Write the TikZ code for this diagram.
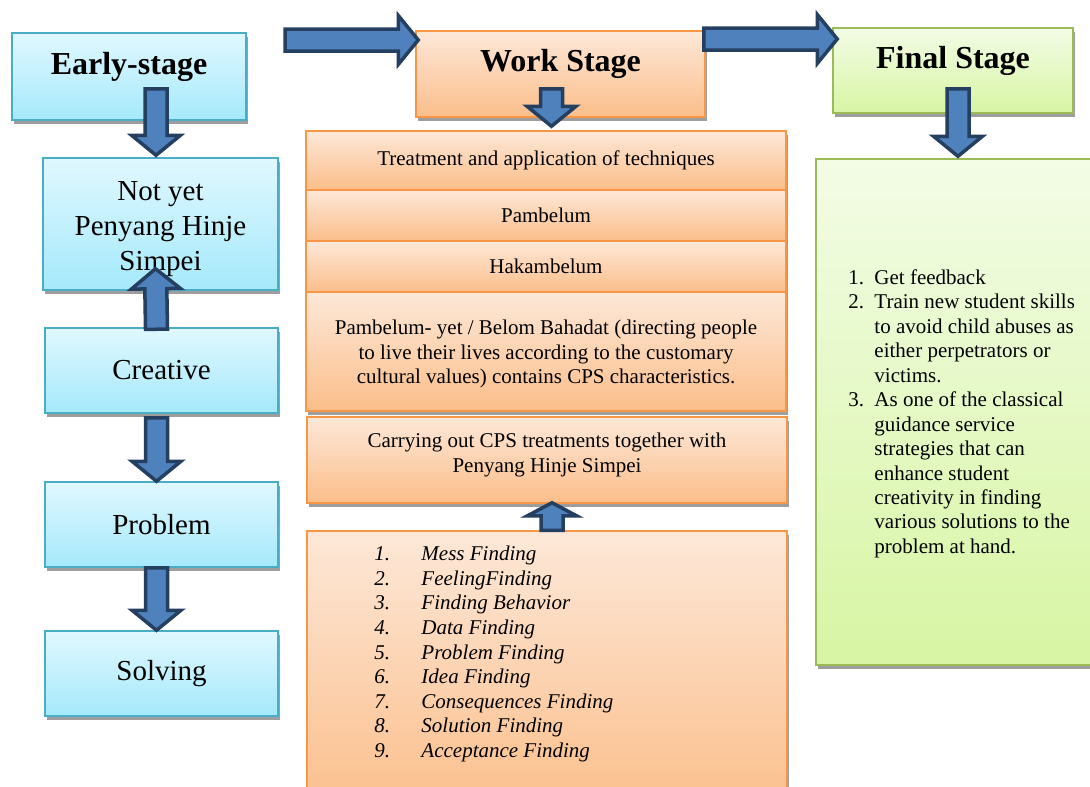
\documentclass[tikz,border=0pt]{standalone}
\usepackage{fontspec}
\setmainfont{Liberation Serif}
\usetikzlibrary{calc,shadows}

\definecolor{arrowfill}{HTML}{4F81BD}
\definecolor{arrowline}{HTML}{243F60}
\definecolor{cyanline}{HTML}{4BACC6}
\definecolor{cyantop}{HTML}{E0F8FE}
\definecolor{cyanbot}{HTML}{A5E9FB}
\definecolor{orangeline}{HTML}{F79646}
\definecolor{orangetop}{HTML}{FDE8D8}
\definecolor{orangebot}{HTML}{FBBE8A}
\definecolor{greenline}{HTML}{9BBB59}
\definecolor{greentop}{HTML}{F3FCE6}
\definecolor{greenbot}{HTML}{D7F5A3}

% block arrow from #2 to #3, head length #1
\newcommand{\blockarrow}[3][20pt]{%
  \coordinate (ba-s) at (#2);
  \coordinate (ba-t) at (#3);
  \coordinate (ba-h) at ($(ba-t)!#1!(ba-s)$);
  \filldraw[blockarr] ($(ba-s)!11pt!90:(ba-t)$) -- ($(ba-h)!11pt!90:(ba-t)$)
    -- ($(ba-h)!24.5pt!90:(ba-t)$) -- (ba-t) -- ($(ba-h)!24.5pt!-90:(ba-t)$)
    -- ($(ba-h)!11pt!-90:(ba-t)$) -- ($(ba-s)!11pt!-90:(ba-t)$) -- cycle;}

\begin{document}
\begin{tikzpicture}[x=1pt, y=-1pt,
        box/.style={rectangle, line width=1.5pt, inner sep=0pt,
            drop shadow={shadow xshift=1.5pt, shadow yshift=-3.5pt, fill=black!38, opacity=1}},
        cyanbox/.style={box, draw=cyanline, top color=cyantop, bottom color=cyanbot, minimum width=233pt, minimum height=85pt, align=center, font=\fontsize{29}{35}\selectfont},
        orangebox/.style={box, draw=orangeline, top color=orangetop, bottom color=orangebot, minimum width=480pt, align=center, font=\fontsize{21}{24.2}\selectfont},
        greenbox/.style={box, draw=greenline, top color=greentop, bottom color=greenbot},
        stage/.style={font=\fontsize{32}{36}\selectfont\bfseries, text height=0pt, text depth=5pt},
        listtext/.style={inner sep=0pt, font=\fontsize{21}{24.2}\selectfont},
        blockarr/.style={draw=arrowline, fill=arrowfill, line width=3.5pt, line join=miter}
    ]
        \useasboundingbox (0,0) rectangle (1090,787);

        % Early stage column
        \node[cyanbox, stage, minimum width=234pt, minimum height=87pt] (early) at (129,76.5) {Early-stage};
        \node[cyanbox, minimum width=235pt, minimum height=132pt] (notyet) at (160.5,224) {};
        \node[inner sep=0pt, align=center, font=\fontsize{29}{35}\selectfont] (notyettxt) at ([yshift=-5pt]notyet.center) {Not yet\\Penyang Hinje\\Simpei};
        \node[cyanbox] (creative) at (161.5,370.5) {Creative};
        \node[cyanbox] (problem) at (161.5,524.5) {Problem};
        \node[cyanbox] (solving) at (161.5,673.5) {Solving};

        % Work stage column
        \node[orangebox, stage, minimum width=289pt, minimum height=86pt] (work) at (560.5,74) {Work Stage};
        \node[orangebox, minimum height=59pt] (treat) at (546,160.5) {Treatment and application of techniques};
        \node[orangebox, minimum height=51pt] (pamb) at (546,215.5) {Pambelum};
        \node[orangebox, minimum height=51pt] (hakam) at (546,266.5) {Hakambelum};
        \node[orangebox, minimum height=119pt] (belom) at (546,351.5) {};
        \node[listtext, align=center] (belomtxt) at ([yshift=-2.5pt]belom.center) {Pambelum- yet / Belom Bahadat (directing people\\to live their lives according to the customary\\cultural values) contains CPS characteristics.};
        \node[orangebox, minimum height=86pt] (carry) at (547,460) {};
        \node[listtext, align=center] (carrytxt) at ([yshift=5pt]carry.center) {Carrying out CPS treatments together with\\Penyang Hinje Simpei};
        \node[orangebox, minimum height=284pt] (finding) at (547,673) {};
        \node[listtext, anchor=north west, font=\fontsize{21}{24.6}\selectfont\itshape] (findlist) at ([xshift=68pt,yshift=-13pt]finding.north west) {%
            \begin{tabular}{@{}p{47pt}@{}l@{}}
            1. & Mess Finding\\
            2. & FeelingFinding\\
            3. & Finding Behavior\\
            4. & Data Finding\\
            5. & Problem Finding\\
            6. & Idea Finding\\
            7. & Consequences Finding\\
            8. & Solution Finding\\
            9. & Acceptance Finding
            \end{tabular}};

        % Final stage column
        \node[greenbox, stage, minimum width=240pt, minimum height=85pt] (final) at (953,70.5) {Final Stage};
        \node[greenbox, minimum width=290pt, minimum height=506pt] (result) at (961,412) {};
        \node[listtext, anchor=west, font=\fontsize{21}{24.45}\selectfont] (resultlist) at ([xshift=33pt,yshift=-2pt]result.west) {%
            \begin{tabular}{@{}p{26pt}@{}l@{}}
            1. & Get feedback\\
            2. & Train new student skills\\
               & to avoid child abuses as\\
               & either perpetrators or\\
               & victims.\\
            3. & As one of the classical\\
               & guidance service\\
               & strategies that can\\
               & enhance student\\
               & creativity in finding\\
               & various solutions to the\\
               & problem at hand.
            \end{tabular}};

        % Arrows between stages
        \coordinate (leadin) at (285,40);
        \blockarrow{leadin}{[xshift=3pt,yshift=34pt]work.west}
        \blockarrow{[xshift=-2pt,yshift=35pt]work.east}{[xshift=5pt,yshift=31.5pt]final.west}

        % Arrows for early stage
        \blockarrow{[xshift=27pt,yshift=32pt]early.south}{[xshift=-4.5pt,yshift=2pt]notyet.north}
        \blockarrow{[xshift=-5pt,yshift=-2pt]creative.north}{[xshift=-5pt,yshift=22pt]notyet.south}
        \blockarrow{[xshift=-5pt,yshift=-4pt]creative.south}{[xshift=-5pt]problem.north}
        \blockarrow{[xshift=-5pt]problem.south}{[xshift=-5pt]solving.north}

        % Arrows for work stage
        \blockarrow{[xshift=-9pt,yshift=29pt]work.south}{[xshift=5.5pt,yshift=4pt]treat.north}
        \blockarrow[13pt]{[xshift=5pt]finding.north}{[xshift=5pt,yshift=1pt]carry.south}

        % Arrow for final stage
        \blockarrow{[xshift=5pt,yshift=25pt]final.south}{[xshift=-3pt,yshift=2pt]result.north}

    \end{tikzpicture}
\end{document}
